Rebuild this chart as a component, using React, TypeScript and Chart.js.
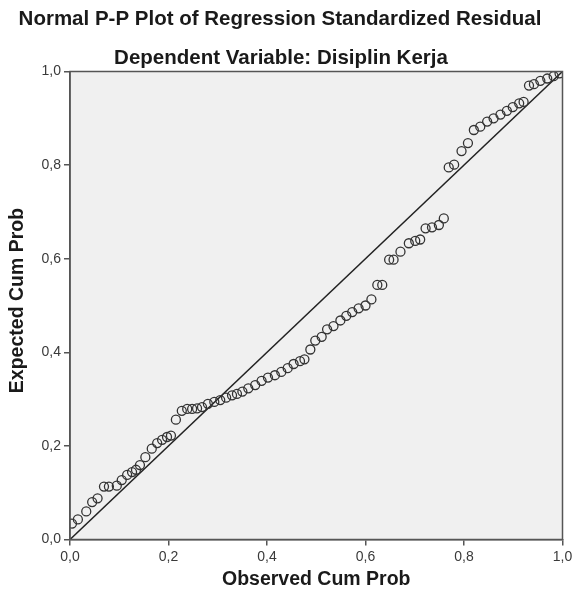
import React, { useEffect, useRef } from "react";
import { Chart, registerables } from "chart.js";

Chart.register(...registerables);

const titleText = "Normal P-P Plot of Regression Standardized Residual";
const subtitleText = "Dependent Variable: Disiplin Kerja";
const xAxisTitle = "Observed Cum Prob";
const yAxisTitle = "Expected Cum Prob";

const axisMin = 0;
const axisMax = 1;
const tickStep = 0.2;

const observedCumProb = [
  0.004, 0.016, 0.033, 0.045, 0.056, 0.069, 0.079, 0.095, 0.105, 0.116,
  0.126, 0.134, 0.142, 0.153, 0.166, 0.177, 0.187, 0.197, 0.205, 0.215,
  0.227, 0.238, 0.248, 0.258, 0.268, 0.280, 0.293, 0.305, 0.317, 0.329,
  0.339, 0.350, 0.362, 0.376, 0.389, 0.402, 0.416, 0.429, 0.442, 0.454,
  0.467, 0.476, 0.488, 0.498, 0.511, 0.522, 0.535, 0.549, 0.561, 0.573,
  0.586, 0.600, 0.612, 0.624, 0.634, 0.648, 0.657, 0.671, 0.688, 0.701,
  0.711, 0.722, 0.735, 0.749, 0.759, 0.769, 0.780, 0.795, 0.808, 0.820,
  0.833, 0.847, 0.860, 0.874, 0.887, 0.899, 0.912, 0.921, 0.932, 0.942,
  0.955, 0.969, 0.982, 0.994,
];

const expectedCumProb = [
  0.034, 0.043, 0.060, 0.080, 0.088, 0.113, 0.113, 0.115, 0.127, 0.138,
  0.144, 0.149, 0.159, 0.176, 0.194, 0.206, 0.213, 0.219, 0.222, 0.256,
  0.275, 0.279, 0.279, 0.280, 0.283, 0.290, 0.294, 0.298, 0.303, 0.308,
  0.311, 0.316, 0.323, 0.330, 0.339, 0.346, 0.351, 0.358, 0.366, 0.375,
  0.381, 0.385, 0.406, 0.425, 0.433, 0.449, 0.456, 0.468, 0.478, 0.486,
  0.494, 0.500, 0.513, 0.544, 0.544, 0.598, 0.598, 0.615, 0.633, 0.638,
  0.641, 0.665, 0.667, 0.672, 0.686, 0.795, 0.801, 0.830, 0.847, 0.875,
  0.882, 0.893, 0.900, 0.908, 0.916, 0.924, 0.932, 0.935, 0.970, 0.973,
  0.980, 0.985, 0.990, 0.996,
];

const diagonalX = [0, 1];
const diagonalY = [0, 1];

const FONT = "'Liberation Sans', Arial, sans-serif";

const fmt = (v: number) => Number(v).toFixed(1).replace(".", ",");

export default function App() {
  const ref = useRef<HTMLCanvasElement | null>(null);

  useEffect(() => {
    const canvas = ref.current;
    if (!canvas) return;

    const points = observedCumProb.map((x, i) => ({ x, y: expectedCumProb[i] }));
    const line = diagonalX.map((x, i) => ({ x, y: diagonalY[i] }));

    const bgPlugin = {
      id: "bgPlugin",
      beforeDraw(chart: any) {
        const { ctx, chartArea: a, width, height } = chart;
        ctx.save();
        ctx.fillStyle = "#ffffff";
        ctx.fillRect(0, 0, width, height);
        ctx.fillStyle = "#f0f0f0";
        ctx.fillRect(a.left, a.top, a.right - a.left, a.bottom - a.top);
        ctx.restore();
      },
      afterDraw(chart: any) {
        const { ctx, chartArea: a } = chart;
        ctx.save();
        ctx.strokeStyle = "#555555";
        ctx.lineWidth = 1.5;
        ctx.strokeRect(a.left, a.top, a.right - a.left, a.bottom - a.top);
        ctx.fillStyle = "#1a1a1a";
        ctx.textAlign = "center";
        ctx.textBaseline = "middle";
        ctx.font = `bold 20.5px ${FONT}`;
        ctx.fillText(titleText, 280, 19);
        ctx.fillText(subtitleText, 281, 58);
        ctx.font = `bold 19.5px ${FONT}`;
        ctx.fillText(xAxisTitle, (a.left + a.right) / 2, 580);
        ctx.translate(18, (a.top + a.bottom) / 2 - 5);
        ctx.rotate(-Math.PI / 2);
        ctx.fillText(yAxisTitle, 0, 0);
        ctx.restore();
      },
    };

    const tickFont = { family: FONT, size: 14 };
    const common = {
      type: "linear" as const,
      min: axisMin,
      max: axisMax,
      ticks: {
        stepSize: tickStep,
        callback: (v: any) => fmt(v),
        font: tickFont,
        color: "#3a3a3a",
        padding: 3,
        maxRotation: 0,
        autoSkip: false,
      },
      grid: {
        display: true,
        drawOnChartArea: false,
        drawTicks: true,
        tickLength: 6,
        color: "#555555",
        tickColor: "#555555",
        lineWidth: 1.5,
      },
      border: { display: true, color: "#555555", width: 1.5 },
    };

    const chart = new Chart(canvas, {
      type: "scatter",
      data: {
        datasets: [
          {
            data: points,
            showLine: false,
            pointRadius: 4.5,
            pointBorderWidth: 1.3,
            pointBorderColor: "#333333",
            pointBackgroundColor: "rgba(0,0,0,0)",
            order: 1,
          },
          {
            data: line,
            showLine: true,
            borderColor: "#222222",
            borderWidth: 1.5,
            pointRadius: 0,
            order: 2,
          },
        ],
      },
      options: {
        responsive: false,
        animation: false,
        layout: { padding: { top: 71.5, right: 9.5, bottom: 0, left: 0 } },
        plugins: {
          legend: { display: false },
          tooltip: { enabled: false },
        },
        scales: {
          x: {
            ...common,
            afterFit: (s: any) => {
              s.height = 55.5;
              s.paddingLeft = 0;
              s.paddingRight = 0;
            },
          },
          y: {
            ...common,
            afterFit: (s: any) => {
              s.width = 70;
              s.paddingTop = 0;
              s.paddingBottom = 0;
            },
          },
        },
      },
      plugins: [bgPlugin],
    });

    return () => chart.destroy();
  }, []);

  return (
    <div style={{ position: "absolute", left: 0, top: 0, width: 572, height: 595 }}>
      <canvas ref={ref} width={572} height={595} style={{ display: "block" }} />
    </div>
  );
}
